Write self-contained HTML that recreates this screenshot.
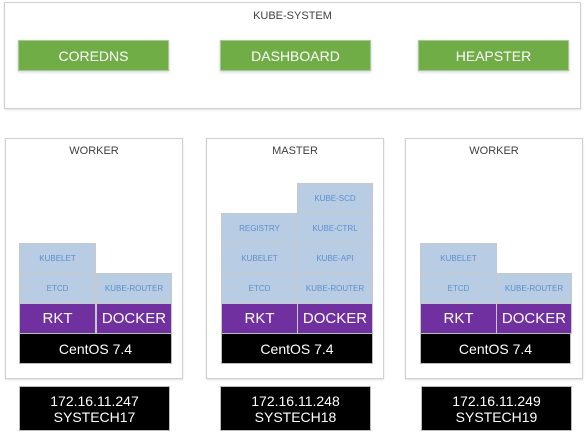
<!DOCTYPE html>
<html><head><meta charset="utf-8"><style>
html,body{margin:0;padding:0;background:#fff;width:588px;height:439px;overflow:hidden;position:relative;font-family:"Liberation Sans",sans-serif}
div.b{position:absolute;box-sizing:border-box;display:flex;align-items:center;justify-content:center;text-align:center}
.frame{border:1px solid #d0d0d0;background:#fff;box-shadow:0 1px 2px rgba(0,0,0,.12)}
.t{position:absolute;font-size:11px;color:#404040;text-align:center}
.g{background:#70ad47;border:1px solid #a9c79a;color:#fff;font-size:14px;box-shadow:0 1px 3px rgba(0,0,0,.2)}
.l{background:#b8cce4;border:1px solid #c8c8c8;color:#5b8fd0;font-size:8px}
.p{background:#7030a0;border:1px solid #c8c8c8;color:#fff;font-size:15px}
.k{background:#000;color:#fff;font-size:14px;line-height:16px;border:1px solid #bbb}
</style></head><body>
<div class="b frame" style="left:4px;top:2px;width:577px;height:107px"></div>
<div class="t" style="left:4px;top:10px;width:577px">KUBE-SYSTEM</div>
<div class="b g" style="left:18px;top:40px;width:151px;height:31px">COREDNS</div>
<div class="b g" style="left:220px;top:40px;width:151px;height:31px">DASHBOARD</div>
<div class="b g" style="left:418px;top:40px;width:151px;height:31px">HEAPSTER</div>

<!-- worker 1 -->
<div class="b frame" style="left:5px;top:138px;width:178px;height:241px"></div>
<div class="t" style="left:5px;top:145px;width:178px">WORKER</div>
<div class="b l" style="left:19px;top:243px;width:77px;height:31px">KUBELET</div>
<div class="b l" style="left:19px;top:273px;width:77px;height:31px">ETCD</div>
<div class="b l" style="left:96px;top:273px;width:76px;height:31px">KUBE-ROUTER</div>
<div class="b p" style="left:19px;top:303px;width:77px;height:31px">RKT</div>
<div class="b p" style="left:96px;top:303px;width:76px;height:31px">DOCKER</div>
<div class="b k" style="left:19px;top:333px;width:153px;height:31px">CentOS 7.4</div>
<div class="b k" style="left:19px;top:386px;width:151px;height:45px">172.16.11.247<br>SYSTECH17</div>

<!-- master -->
<div class="b frame" style="left:206px;top:138px;width:178px;height:241px"></div>
<div class="t" style="left:206px;top:145px;width:178px">MASTER</div>
<div class="b l" style="left:297px;top:183px;width:76px;height:31px">KUBE-SCD</div>
<div class="b l" style="left:221px;top:213px;width:77px;height:31px">REGISTRY</div>
<div class="b l" style="left:297px;top:213px;width:76px;height:31px">KUBE-CTRL</div>
<div class="b l" style="left:221px;top:243px;width:77px;height:31px">KUBELET</div>
<div class="b l" style="left:297px;top:243px;width:76px;height:31px">KUBE-API</div>
<div class="b l" style="left:221px;top:273px;width:77px;height:31px">ETCD</div>
<div class="b l" style="left:297px;top:273px;width:76px;height:31px">KUBE-ROUTER</div>
<div class="b p" style="left:221px;top:303px;width:77px;height:31px">RKT</div>
<div class="b p" style="left:297px;top:303px;width:76px;height:31px">DOCKER</div>
<div class="b k" style="left:221px;top:333px;width:152px;height:31px">CentOS 7.4</div>
<div class="b k" style="left:220px;top:386px;width:151px;height:45px">172.16.11.248<br>SYSTECH18</div>

<!-- worker 2 -->
<div class="b frame" style="left:405px;top:138px;width:178px;height:241px"></div>
<div class="t" style="left:405px;top:145px;width:178px">WORKER</div>
<div class="b l" style="left:420px;top:243px;width:77px;height:31px">KUBELET</div>
<div class="b l" style="left:420px;top:273px;width:77px;height:31px">ETCD</div>
<div class="b l" style="left:496px;top:273px;width:76px;height:31px">KUBE-ROUTER</div>
<div class="b p" style="left:420px;top:303px;width:77px;height:31px">RKT</div>
<div class="b p" style="left:496px;top:303px;width:76px;height:31px">DOCKER</div>
<div class="b k" style="left:420px;top:333px;width:151px;height:31px">CentOS 7.4</div>
<div class="b k" style="left:421px;top:386px;width:151px;height:45px">172.16.11.249<br>SYSTECH19</div>
</body></html>
